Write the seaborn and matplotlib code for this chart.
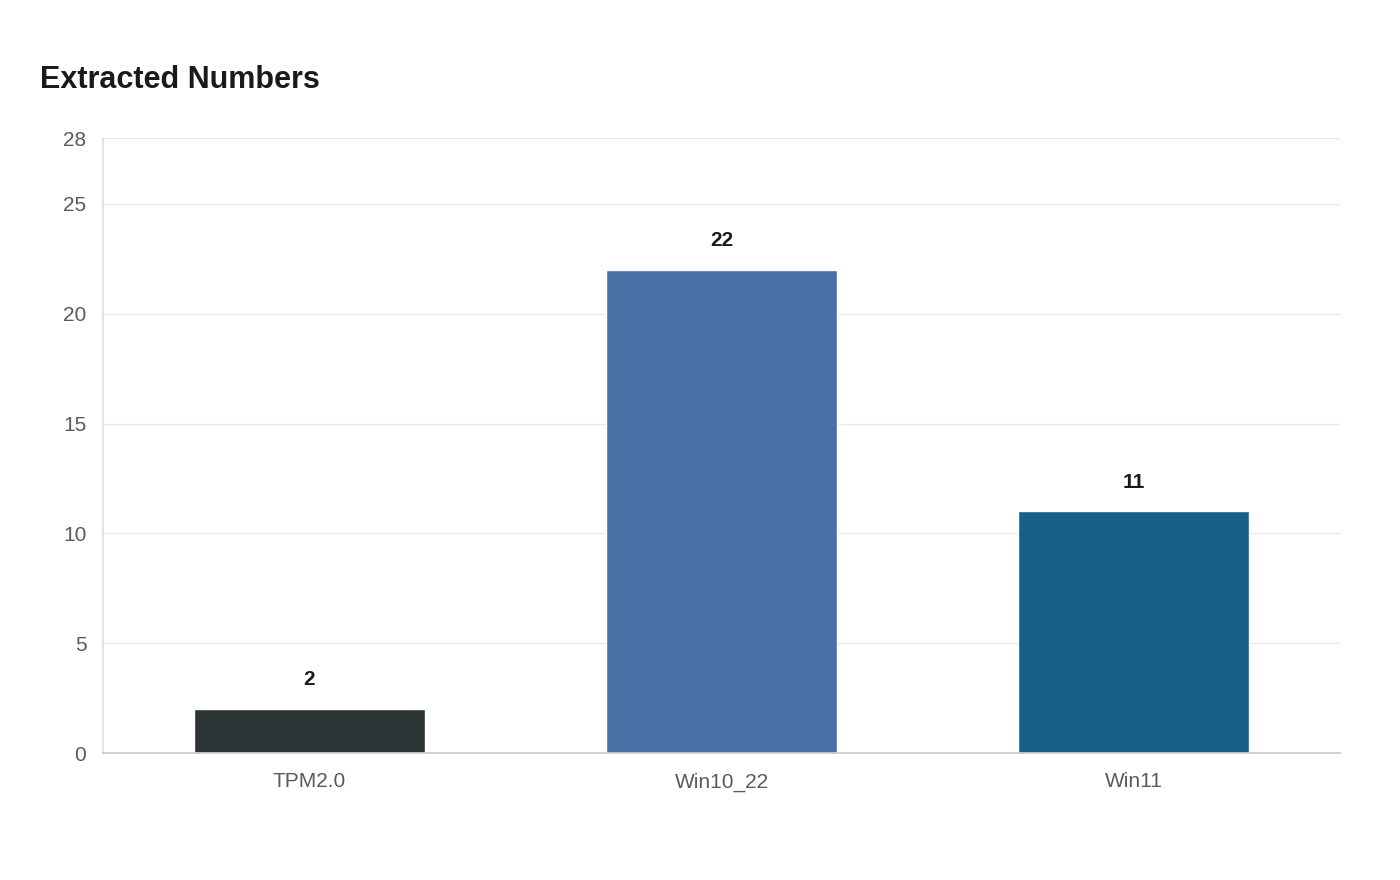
import pandas as pd
import seaborn as sns
import matplotlib.pyplot as plt

# chart data
categories = ['TPM2.0', 'Win10_22', 'Win11']
values = [2, 22, 11]
bar_colors = ['#2d3436', '#4a6fa5', '#176087']
y_ticks = [0, 5, 10, 15, 20, 25, 28]

df = pd.DataFrame({'name': categories, 'count': values})

sns.set_theme(style='white')
plt.rcParams['font.family'] = ['Liberation Sans', 'DejaVu Sans']

fig = plt.figure(figsize=(14, 8.8), dpi=100)
ax = fig.add_axes([103/1400, 1 - 753/880, (1340-103)/1400, (753-138)/880])

sns.barplot(data=df, x='name', y='count', hue='name', palette=bar_colors,
            width=0.56, legend=False, ax=ax, saturation=1)

for i, v in enumerate(values):
    ax.text(i, v + 0.9, str(v), ha='center', va='bottom', fontsize=15,
            fontweight='bold', color='#1a1a1a')

ax.set_ylim(0, 28)
ax.set_yticks(y_ticks)
ax.set_xlim(-0.5, 2.5)
ax.grid(axis='y', color='#e8e8e8', linewidth=1)
ax.set_axisbelow(True)
ax.set_xlabel('')
ax.set_ylabel('')
ax.tick_params(axis='both', labelsize=15, colors='#555b63', length=0)
ax.tick_params(axis='x', pad=14)
ax.tick_params(axis='y', pad=12)
for s in ['top', 'right']:
    ax.spines[s].set_visible(False)
ax.spines['left'].set_color('#e0e0e0')
ax.spines['bottom'].set_color('#cccccc')

fig.text(40/1400, 1 - 80/880, 'Extracted Numbers', fontsize=22, fontweight='bold',
         color='#1a1a1a', va='center', ha='left')

fig.savefig('out.png', dpi=100, facecolor='white')
